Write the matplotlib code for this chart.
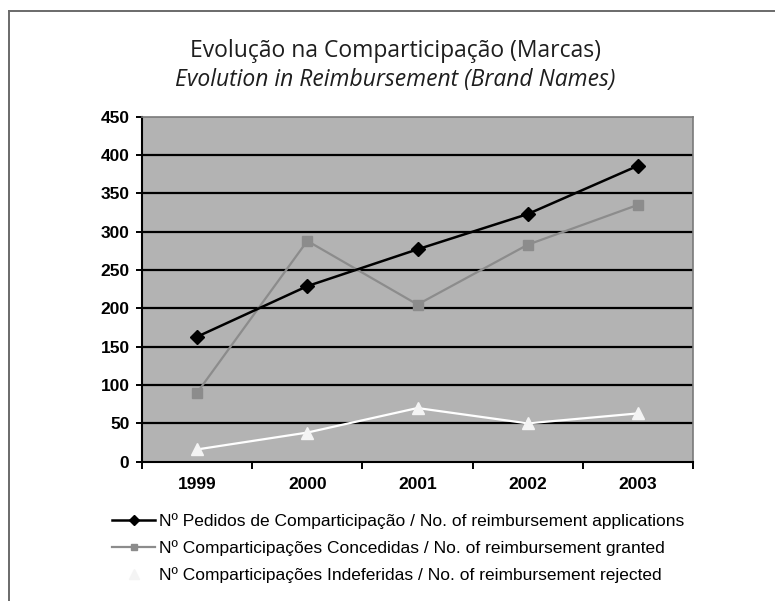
import matplotlib
matplotlib.use("Agg")
import matplotlib.pyplot as plt
from matplotlib.lines import Line2D

# dados
anos = ["1999", "2000", "2001", "2002", "2003"]
pedidos = [163, 229, 277, 323, 386]
concedidas = [90, 288, 205, 283, 335]
indeferidas = [16, 38, 70, 50, 63]

rotulos = [
    "Nº Pedidos de Comparticipação / No. of reimbursement applications",
    "Nº Comparticipações Concedidas / No. of reimbursement granted",
    "Nº Comparticipações Indeferidas / No. of reimbursement rejected",
]
y_ticks = list(range(0, 451, 50))

fig = plt.figure(figsize=(7.75, 6.01), dpi=100)

# moldura (apenas topo e esquerda visíveis)
fig.add_artist(Line2D([9/775, 1.0], [1 - 11/601, 1 - 11/601], color="#6a6a6a", lw=1.4))
fig.add_artist(Line2D([9/775, 9/775], [0.0, 1 - 11/601], color="#6a6a6a", lw=1.4))

# título em duas linhas
fig.text(395/775, 1 - 57/601, "Evolução na Comparticipação (Marcas)",
         ha="center", va="baseline", fontsize=16.5, color="#1e1e1e", family="Open Sans")
fig.text(395/775, 1 - 86/601, "Evolution in Reimbursement (Brand Names)",
         ha="center", va="baseline", fontsize=16.5, color="#1e1e1e", family="Open Sans",
         style="italic")

ax = fig.add_axes([142/775, 1 - 461.7/601, (693 - 142)/775, (461.7 - 116.7)/601])
ax.set_facecolor("#b3b3b3")

x = list(range(len(anos)))
ax.plot(x, pedidos, color="black", lw=1.8, marker="D", ms=7,
        mfc="black", mec="black", label=rotulos[0], zorder=4)
ax.plot(x, concedidas, color="#8c8c8c", lw=1.6, marker="s", ms=6.5,
        mfc="#8c8c8c", mec="#8c8c8c", label=rotulos[1], zorder=3)
ax.plot(x, indeferidas, color="white", lw=1.6, marker="^", ms=9,
        mfc="#f4f4f4", mec="#f4f4f4", label=rotulos[2], zorder=3)

ax.set_xlim(-0.5, len(anos) - 0.5)
ax.set_ylim(0, 450)
ax.set_yticks(y_ticks)
ax.set_yticklabels([str(v) for v in y_ticks])
for v in y_ticks[1:-1]:
    ax.axhline(v, color="black", lw=1.6, zorder=1)

# ticks nas fronteiras das categorias, rótulos ao centro
ax.set_xticks([i - 0.5 for i in range(len(anos) + 1)])
ax.set_xticklabels([""] * (len(anos) + 1))
ax.set_xticks(x, minor=True)
ax.set_xticklabels(anos, minor=True)
ax.tick_params(axis="x", which="major", direction="out", length=5, width=1.4, color="black")
ax.tick_params(axis="x", which="minor", length=0, pad=11)
ax.tick_params(axis="y", direction="out", length=4, width=1.4, color="black", pad=5)

for lbl in ax.get_yticklabels() + ax.get_xticklabels(minor=True):
    lbl.set_fontweight("bold")
    lbl.set_fontsize(12.5)
    lbl.set_family("Liberation Sans")

ax.spines["left"].set_color("black")
ax.spines["left"].set_linewidth(1.5)
ax.spines["bottom"].set_color("black")
ax.spines["bottom"].set_linewidth(1.5)
ax.spines["top"].set_color("#7a7a7a")
ax.spines["right"].set_color("#7a7a7a")
ax.spines["top"].set_linewidth(1.2)
ax.spines["right"].set_linewidth(1.2)

fig.legend(loc="upper left", bbox_to_anchor=(112/775, 1 - 513/601),
           frameon=False, borderpad=0, borderaxespad=0,
           handlelength=2.5, handletextpad=0.2, labelspacing=0.65,
           markerscale=0.75,
           prop={"family": "Liberation Sans", "size": 12.5})

fig.savefig("out.png", dpi=100)
